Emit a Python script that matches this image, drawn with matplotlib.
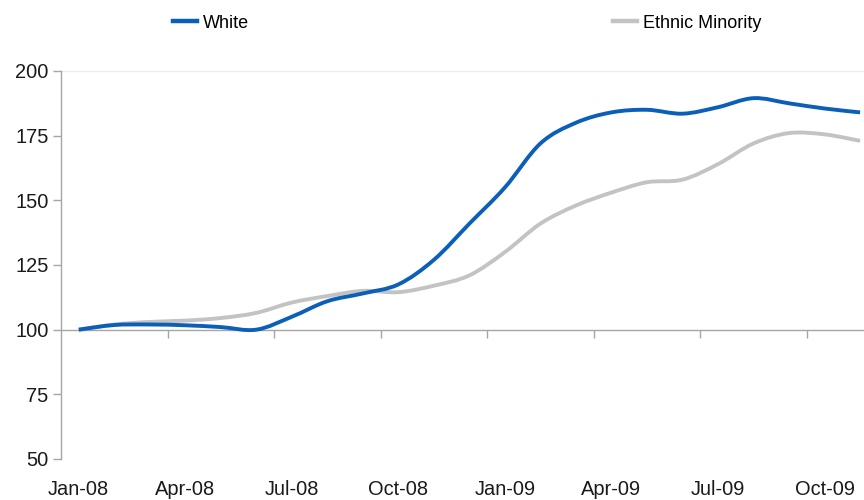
import matplotlib
matplotlib.use("Agg")
import matplotlib.pyplot as plt
import numpy as np
from matplotlib.path import Path
from matplotlib.patches import PathPatch
from matplotlib.lines import Line2D

plt.rcParams['font.family'] = ['Liberation Sans', 'DejaVu Sans']

months = ["Jan-08", "Feb-08", "Mar-08", "Apr-08", "May-08", "Jun-08",
          "Jul-08", "Aug-08", "Sep-08", "Oct-08", "Nov-08", "Dec-08",
          "Jan-09", "Feb-09", "Mar-09", "Apr-09", "May-09", "Jun-09",
          "Jul-09", "Aug-09", "Sep-09", "Oct-09", "Nov-09"]
white = [100, 101.8, 102, 101.7, 101, 100, 105, 111, 114, 117.5, 127, 141,
         155, 172, 180, 184, 185, 183.5, 186, 189.5, 187.5, 185.5, 184]
ethnic_minority = [100, 102, 103, 103.5, 104.5, 106.5, 110.5, 113, 115, 114.5,
                   117, 121, 130, 141, 148, 153, 157, 158, 164, 172, 176,
                   175.5, 173]

BLUE = "#0B5FB8"
GREY = "#C3C3C3"
AXIS = "#A6A6A6"


def smooth_path(xs, ys):
    """Catmull-Rom style Bezier path through the points (like Excel's smoothed line)."""
    p = np.column_stack([xs, ys]).astype(float)
    n = len(p)
    verts = [p[0]]
    codes = [Path.MOVETO]
    for i in range(n - 1):
        p0 = p[i - 1] if i > 0 else p[i]
        p1 = p[i]
        p2 = p[i + 1]
        p3 = p[i + 2] if i + 2 < n else p[i + 1]
        c1 = p1 + (p2 - p0) / 6.0
        c2 = p2 - (p3 - p1) / 6.0
        verts += [c1, c2, p2]
        codes += [Path.CURVE4] * 3
    return Path(verts, codes)


fig = plt.figure(figsize=(8.64, 5.0), dpi=100)
ax = fig.add_axes([61 / 864, 41 / 500, 1 - 61 / 864, 388 / 500])

x = np.arange(len(months))
for vals, col in [(ethnic_minority, GREY), (white, BLUE)]:
    ax.add_patch(PathPatch(smooth_path(x, vals), facecolor="none",
                           edgecolor=col, lw=2.8, capstyle="butt",
                           joinstyle="round", transform=ax.transData, zorder=3))

ax.set_xlim(-0.5, 22.11)
ax.set_ylim(50, 200)

# y axis
ax.set_yticks(np.arange(50, 201, 25))
ax.tick_params(axis="y", direction="out", length=6, width=1, color=AXIS,
               labelsize=14.4, labelcolor="#1a1a1a", pad=3)
for s in ["top", "right", "bottom"]:
    ax.spines[s].set_visible(False)
ax.spines["left"].set_color(AXIS)
ax.spines["left"].set_linewidth(1)

# light gridline at the top value
ax.axhline(200, color="#EBEBEB", lw=1, zorder=1)

# category labels at the bottom of the plot
ax.set_xticks(x[::3])
ax.set_xticklabels(months[::3])
ax.tick_params(axis="x", length=0, labelsize=14.4, labelcolor="#1a1a1a", pad=15)

# horizontal axis line crossing at 100, with ticks between quarters
sec = ax.secondary_xaxis((100 - 50) / (200 - 50))
sec.set_xticks(np.arange(2.5, 23, 3))
sec.set_xticklabels([])
sec.tick_params(axis="x", direction="out", length=6, width=1, color=AXIS)
sec.spines["bottom"].set_color(AXIS)
sec.spines["bottom"].set_linewidth(1)

handles = [Line2D([], [], color=BLUE, lw=3.2), Line2D([], [], color=GREY, lw=3.2)]
fig.legend(handles, ["White", "Ethnic Minority"], loc="center left",
           bbox_to_anchor=(173 / 864, 1 - 23 / 500), ncol=2, frameon=False,
           fontsize=13, handlelength=1.35, handletextpad=0.3,
           columnspacing=20.15, borderpad=0, borderaxespad=0)

fig.savefig("out.png", dpi=100)
